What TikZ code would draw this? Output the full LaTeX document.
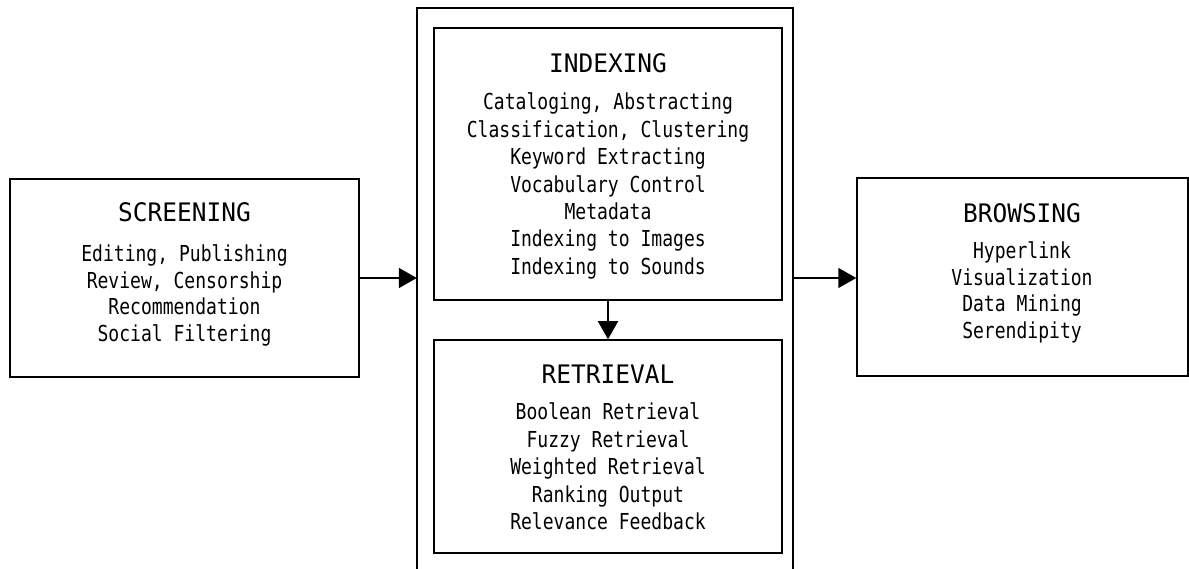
\documentclass[tikz,border=0pt]{standalone}
\usepackage{fontspec}
\newfontfamily\headfont[FakeStretch=0.96]{DejaVu Sans Mono}
\newfontfamily\itemfont[FakeStretch=0.82]{DejaVu Sans Mono}
\usetikzlibrary{arrows.meta}

\begin{document}
\begin{tikzpicture}[x=1pt,y=-1pt,
  frame/.style={draw,line width=1.5pt,inner sep=0pt},
  heading/.style={anchor=base,inner sep=0pt,font=\headfont\fontsize{25.5}{25.5}\selectfont},
  item/.style={anchor=base,inner sep=0pt,font=\itemfont\fontsize{22}{22}\selectfont},
  flow/.style={line width=1.5pt,-{Triangle[length=18pt,width=20pt]}}]

\useasboundingbox (0,0) rectangle (1189,569);

% stage boxes
\node[frame,minimum width=349pt,minimum height=198pt] (scr) at (184.5,278) {};
\node[frame,minimum width=331pt,minimum height=198pt] (brw) at (1022.5,277) {};
\node[frame,minimum width=348pt,minimum height=272pt] (idx) at (608,164) {};
\node[frame,minimum width=348pt,minimum height=213pt] (ret) at (608,446.5) {};

% enclosing frame, open at the bottom
\node[inner sep=0pt,minimum width=376pt,minimum height=561pt] (outer) at (605,288.5) {};
\draw[line width=1.5pt] (outer.south west) -- (outer.north west) -- (outer.north east) -- (outer.south east);

% headings
\node[heading] (scr-h) at (184.5,222) {SCREENING};
\node[heading] (idx-h) at (608,72.5) {INDEXING};
\node[heading] (ret-h) at (608,383) {RETRIEVAL};
\node[heading] (brw-h) at (1022,222.5) {BROWSING};

% item lists
\foreach \t [count=\i] in {{Editing, Publishing},{Review, Censorship},{Recommendation},{Social Filtering}}
  \node[item] (scr-\i) at (184.5,{261.5+(\i-1)*26.7}) {\t};
\foreach \t [count=\i] in {{Cataloging, Abstracting},{Classification, Clustering},{Keyword Extracting},{Vocabulary Control},{Metadata},{Indexing to Images},{Indexing to Sounds}}
  \node[item] (idx-\i) at (608,{110+(\i-1)*27.4}) {\t};
\foreach \t [count=\i] in {{Boolean Retrieval},{Fuzzy Retrieval},{Weighted Retrieval},{Ranking Output},{Relevance Feedback}}
  \node[item] (ret-\i) at (608,{419.5+(\i-1)*27.5}) {\t};
\foreach \t [count=\i] in {{Hyperlink},{Visualization},{Data Mining},{Serendipity}}
  \node[item] (brw-\i) at (1022,{258.5+(\i-1)*26.7}) {\t};

% connectors
\draw[flow] (scr.east) -- (outer.west |- scr.east);
\draw[flow] (outer.east |- scr.east) -- (brw.west |- scr.east);
\draw[flow] (idx.south) -- (ret.north);

\end{tikzpicture}
\end{document}
